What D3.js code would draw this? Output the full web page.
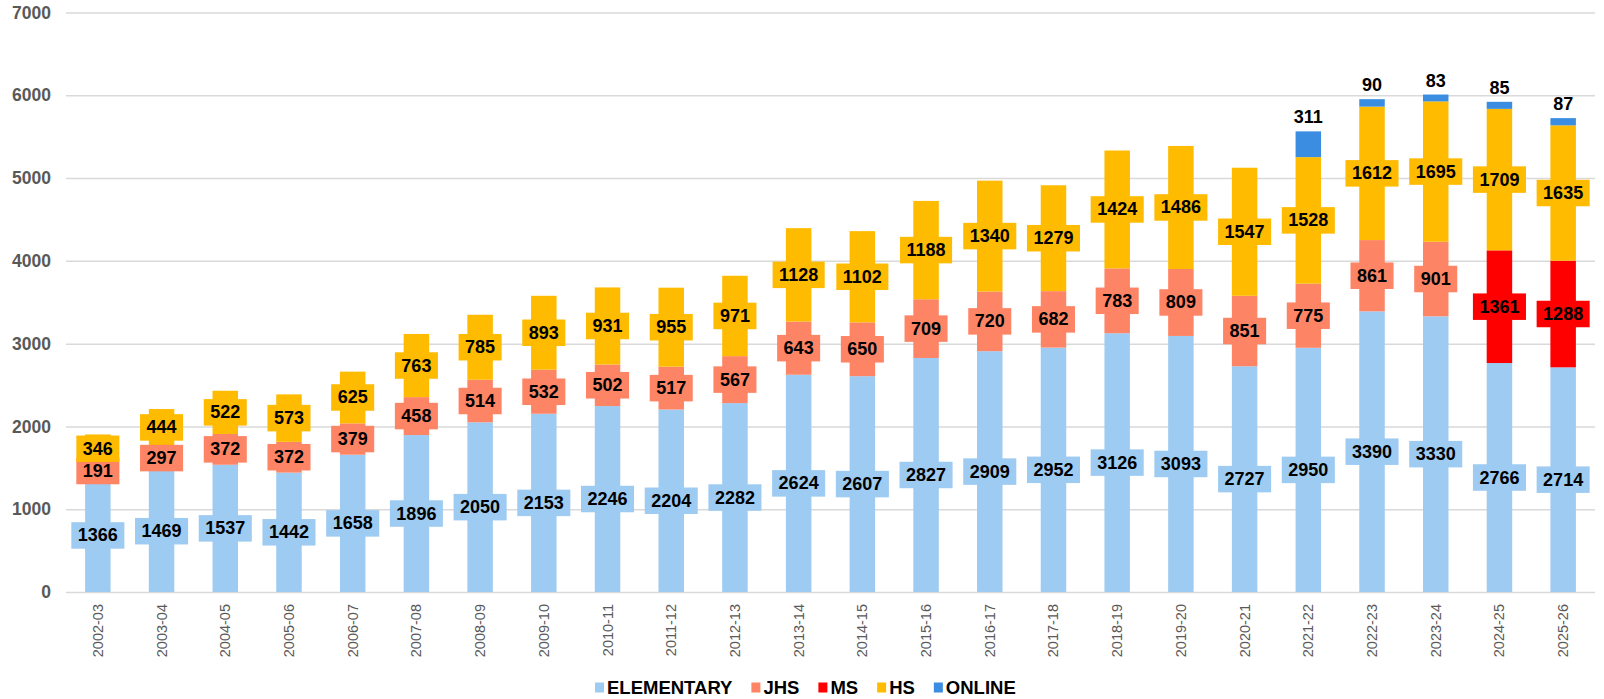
<!DOCTYPE html>
<html>
<head>
<meta charset="utf-8">
<script src="https://cdn.jsdelivr.net/npm/d3@7"></script>
<style>
  html, body { margin: 0; padding: 0; background: #fff; }
  svg { display: block; font-family: "Liberation Sans", Arial, sans-serif; }
</style>
</head>
<body>
<svg id="chart" width="1604" height="699"></svg>
<script>
const years = ["2002-03","2003-04","2004-05","2005-06","2006-07","2007-08","2008-09","2009-10","2010-11","2011-12","2012-13","2013-14","2014-15","2015-16","2016-17","2017-18","2018-19","2019-20","2020-21","2021-22","2022-23","2023-24","2024-25","2025-26"];
const elementary = [1366,1469,1537,1442,1658,1896,2050,2153,2246,2204,2282,2624,2607,2827,2909,2952,3126,3093,2727,2950,3390,3330,2766,2714];
const jhs = [191,297,372,372,379,458,514,532,502,517,567,643,650,709,720,682,783,809,851,775,861,901,0,0];
const ms = [0,0,0,0,0,0,0,0,0,0,0,0,0,0,0,0,0,0,0,0,0,0,1361,1288];
const hs = [346,444,522,573,625,763,785,893,931,955,971,1128,1102,1188,1340,1279,1424,1486,1547,1528,1612,1695,1709,1635];
const online = [0,0,0,0,0,0,0,0,0,0,0,0,0,0,0,0,0,0,0,311,90,83,85,87];
const yTicks = [0,1000,2000,3000,4000,5000,6000,7000];

const seriesNames = ["ELEMENTARY","JHS","MS","HS","ONLINE"];
const seriesValues = [elementary, jhs, ms, hs, online];
const colors = {ELEMENTARY:"#9ecbf2", JHS:"#fe8466", MS:"#fe0000", HS:"#febb00", ONLINE:"#3a8de0"};

const rows = years.map((yr, i) => {
  const r = {year: yr};
  seriesNames.forEach((s, k) => r[s] = seriesValues[k][i]);
  return r;
});

const svg = d3.select("#chart");
const plotLeft = 66, plotRight = 1595, plotTop = 12.5, plotBottom = 592;

const x = d3.scaleBand().domain(years).range([plotLeft, plotRight]).paddingInner(0.6).paddingOuter(0.3);
const y = d3.scaleLinear().domain([0, 7000]).range([plotBottom, plotTop]);

// gridlines
svg.append("g")
  .attr("transform", `translate(${plotLeft},0)`)
  .call(d3.axisLeft(y).tickValues(yTicks).tickSize(-(plotRight - plotLeft)).tickFormat(""))
  .call(g => g.select(".domain").remove())
  .call(g => g.selectAll("line").attr("stroke", "#d9d9d9").attr("stroke-width", 1.5));

// y labels
svg.append("g")
  .attr("transform", `translate(${plotLeft},0)`)
  .call(d3.axisLeft(y).tickValues(yTicks).tickSize(0).tickPadding(15).tickFormat(d3.format("d")))
  .call(g => g.select(".domain").remove())
  .call(g => g.selectAll("text")
    .attr("fill", "#595959")
    .style("font-size", "17.5px")
    .style("font-weight", "bold")
    .style("font-family", "'Liberation Sans', Arial, sans-serif"));

// x labels
svg.append("g")
  .attr("transform", `translate(0,${plotBottom})`)
  .call(d3.axisBottom(x).tickSize(0).tickPadding(0))
  .call(g => g.select(".domain").remove())
  .call(g => g.selectAll("text")
    .attr("fill", "#595959")
    .style("font-size", "14.5px")
    .style("font-family", "'Liberation Sans', Arial, sans-serif")
    .attr("text-anchor", "end")
    .attr("dominant-baseline", "central")
    .attr("dy", null)
    .attr("y", 0)
    .attr("transform", "translate(0,12) rotate(-90)"));

const stacked = d3.stack().keys(seriesNames)(rows);

// bars
const barW = x.bandwidth();
stacked.forEach(layer => {
  svg.append("g")
    .selectAll("rect")
    .data(layer.filter(d => d[1] - d[0] > 0))
    .join("rect")
    .attr("x", d => x(d.data.year))
    .attr("width", barW)
    .attr("y", d => y(d[1]))
    .attr("height", d => y(d[0]) - y(d[1]))
    .attr("fill", colors[layer.key]);
});

// labels
const labelFont = "bold 18px 'Liberation Sans', Arial, sans-serif";
stacked.forEach(layer => {
  const key = layer.key;
  const g = svg.append("g");
  const items = layer.filter(d => d[1] - d[0] > 0);
  if (key === "ONLINE") {
    g.selectAll("text").data(items).join("text")
      .attr("x", d => x(d.data.year) + barW / 2)
      .attr("y", d => y(d[1]) - 8)
      .attr("text-anchor", "middle")
      .style("font", labelFont)
      .attr("fill", "#000")
      .text(d => d[1] - d[0]);
    return;
  }
  items.forEach(d => {
    const cx = x(d.data.year) + barW / 2;
    const cy = y((d[0] + d[1]) / 2);
    const t = g.append("text")
      .attr("x", cx).attr("y", cy)
      .attr("text-anchor", "middle")
      .attr("dominant-baseline", "central")
      .style("font", labelFont)
      .attr("fill", "#000")
      .text(d[1] - d[0]);
    const bb = t.node().getBBox();
    const w = bb.width + 13, h = 26.5;
    g.insert("rect", () => t.node())
      .attr("x", cx - w / 2).attr("y", cy - h / 2)
      .attr("width", w).attr("height", h)
      .attr("fill", colors[key]);
  });
});

// legend
const legend = svg.append("g").attr("transform", "translate(595,687.5)");
let lx = 0;
seriesNames.forEach(name => {
  const item = legend.append("g").attr("transform", `translate(${lx},0)`);
  item.append("rect").attr("x", 0).attr("y", -5).attr("width", 9).attr("height", 10).attr("fill", colors[name]);
  const t = item.append("text")
    .attr("x", 12).attr("y", 0)
    .attr("dominant-baseline", "central")
    .style("font", "bold 18.5px 'Liberation Sans', Arial, sans-serif")
    .attr("fill", "#000")
    .text(name);
  lx += 12 + t.node().getComputedTextLength() + 19;
});
</script>
</body>
</html>
